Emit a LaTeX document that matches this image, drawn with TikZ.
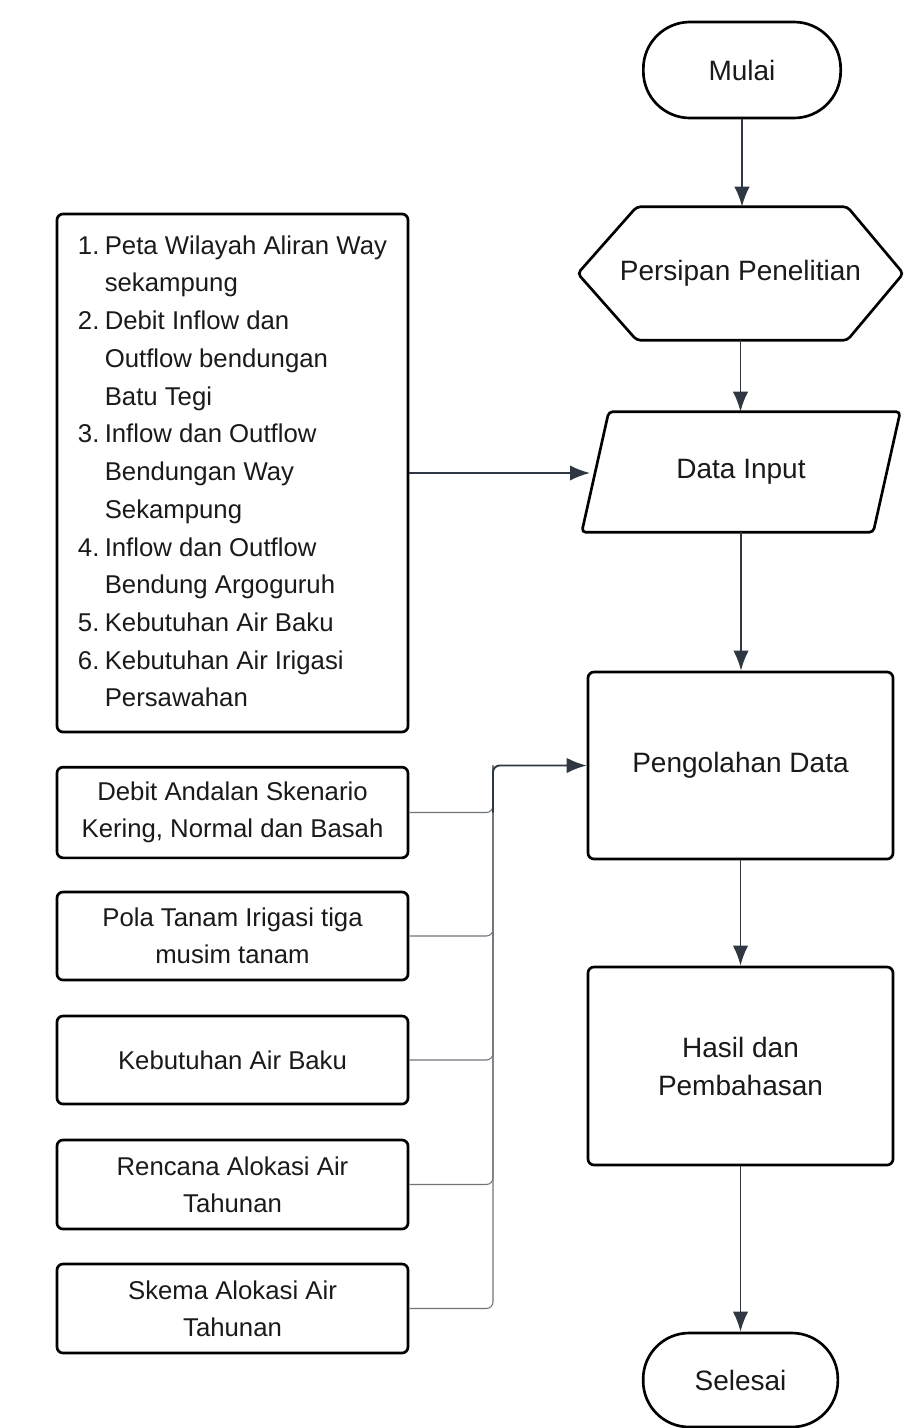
\documentclass[tikz,border=0pt]{standalone}
\usepackage{fontspec}
\setmainfont{Liberation Sans}
\usetikzlibrary{arrows.meta,calc}
\definecolor{arr}{HTML}{2E3742}
\definecolor{bus}{HTML}{70757C}
\definecolor{txt}{HTML}{1A1A1A}
\begin{document}
\begin{tikzpicture}[x=0.75pt,y=-0.75pt,
  box/.style={draw=black, line width=2pt, rounded corners=4.5pt, text=txt, align=center, inner sep=0pt},
  shapeonly/.style={text=txt, align=center, inner sep=0pt},
  outline/.style={draw=black, line width=2pt, rounded corners=3pt},
  bigtxt/.style={font=\fontsize{21}{28.5}\selectfont},
  smalltxt/.style={font=\fontsize{19.3}{27.6}\selectfont},
  listtxt/.style={font=\fontsize{19.3}{28.3}\selectfont},
  flow/.style={draw=arr, line width=1.4pt, -{Latex[length=15pt,width=11.5pt]}},
  feed/.style={draw=bus, line width=0.8pt, rounded corners=5pt},
]
\useasboundingbox (0,0) rectangle (909,1428);
\fill[white] (0,0) rectangle (909,1428);

% right column
\node[box, bigtxt, rounded corners=35pt, minimum width=148pt, minimum height=72pt] (start) at (742,70) {Mulai};
\node[shapeonly, bigtxt, minimum width=243.75pt, minimum height=99.75pt] (prep) at (740.5,273.5) {Persipan Penelitian};
\draw[outline] (prep.west) -- ($(prep.north west)+(59,0)$) -- ($(prep.north east)+(-56,0)$) -- (prep.east)
  -- ($(prep.south east)+(-56,0)$) -- ($(prep.south west)+(59,0)$) -- cycle;
\node[shapeonly, bigtxt, minimum width=238.5pt, minimum height=90pt] (input) at (741,472) {Data Input};
\draw[outline] ($(input.north west)+(27,0)$) -- (input.north east) -- ($(input.south east)+(-27,0)$) -- (input.south west) -- cycle;
\node[box, bigtxt, minimum width=228.75pt, minimum height=140.25pt] (proc) at (740.5,765.5) {Pengolahan Data};
\node[box, bigtxt, minimum width=228.75pt, minimum height=148.5pt] (hasil) at (740.5,1066) {Hasil dan\\Pembahasan};
\node[box, bigtxt, rounded corners=34.5pt, minimum width=146pt, minimum height=70.5pt] (end) at (740.5,1380) {Selesai};

\draw[flow] (start.south) -- (start.south |- prep.north);
\draw[flow] (prep.south) -- (prep.south |- input.north);
\draw[flow] (input.south) -- (input.south |- proc.north);
\draw[flow] (proc.south) -- (proc.south |- hasil.north);
\draw[flow] (hasil.south) -- (hasil.south |- end.north);

% left column
\node[box, listtxt, minimum width=263.25pt, minimum height=388.5pt] (list) at (232.5,473) {%
\begin{tabular}{@{}r@{\hspace{4pt}}l@{}}
1. & Peta Wilayah Aliran Way\\
   & sekampung\\
2. & Debit Inflow dan\\
   & Outflow bendungan\\
   & Batu Tegi\\
3. & Inflow dan Outflow\\
   & Bendungan Way\\
   & Sekampung\\
4. & Inflow dan Outflow\\
   & Bendung Argoguruh\\
5. & Kebutuhan Air Baku\\
6. & Kebutuhan Air Irigasi\\
   & Persawahan
\end{tabular}};
\coordinate (inL) at (590,473);
\draw[flow] (list.east) -- (inL);

\node[box, smalltxt, minimum width=263.25pt, minimum height=68pt] (b1) at (232.5,812.5) {Debit Andalan Skenario\\Kering, Normal dan Basah};
\node[box, smalltxt, minimum width=263.25pt, minimum height=66pt] (b2) at (232.5,936) {Pola Tanam Irigasi tiga\\musim tanam};
\node[box, smalltxt, minimum width=263.25pt, minimum height=66pt] (b3) at (232.5,1060) {Kebutuhan Air Baku};
\node[box, smalltxt, minimum width=263.25pt, minimum height=66.75pt] (b4) at (232.5,1184.5) {Rencana Alokasi Air\\Tahunan};
\node[box, smalltxt, minimum width=263.25pt, minimum height=66.75pt] (b5) at (232.5,1308.5) {Skema Alokasi Air\\Tahunan};

\coordinate (bx) at (493,766);
\foreach \b in {b1,b2,b3,b4,b5}{
  \draw[feed] (\b.east) -- (\b.east -| bx) -- (bx |- proc.west);
}
\coordinate (j1) at (b1.east -| bx);
\draw[flow, rounded corners=5pt] (j1) -- (bx |- proc.west) -- (proc.west);
\end{tikzpicture}
\end{document}
